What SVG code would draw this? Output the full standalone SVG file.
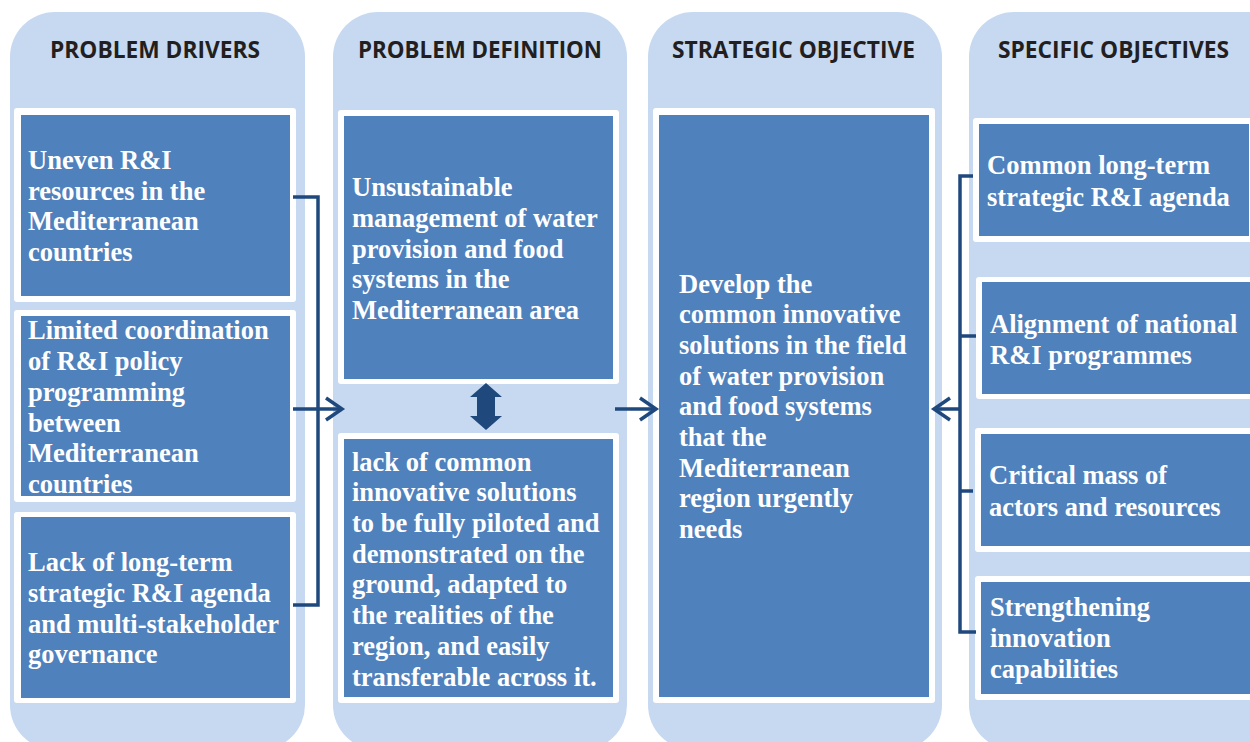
<svg xmlns="http://www.w3.org/2000/svg" width="1250" height="742" viewBox="0 0 1250 742">
<style>
.panel{fill:#C6D9F1}
.wb{fill:#FFFFFF}
.bb{fill:#4F81BD}
.hd{font-family:"Open Sans",Lato,sans-serif;font-weight:bold;font-size:22.5px;fill:#231F20}
.tx{font-family:"Liberation Serif","Times New Roman",serif;font-weight:bold;font-size:26.5px;fill:#FFFFFF}
.ln{fill:none;stroke:#1F497D;stroke-width:3.5}
.ar{fill:#1F497D}
</style>
<rect width="1250" height="742" fill="#FFFFFF"/>
<g id="panels">
<rect class="panel" x="10" y="12" width="295" height="738" rx="45"/>
<rect class="panel" x="333" y="12" width="294" height="738" rx="45"/>
<rect class="panel" x="648" y="12" width="294" height="738" rx="45"/>
<rect class="panel" x="969" y="12" width="330" height="738" rx="45"/>
</g>
<g id="headers">
<text class="hd" x="50" y="58" textLength="210" lengthAdjust="spacingAndGlyphs">PROBLEM DRIVERS</text>
<text class="hd" x="358" y="58" textLength="244" lengthAdjust="spacingAndGlyphs">PROBLEM DEFINITION</text>
<text class="hd" x="672" y="58" textLength="243" lengthAdjust="spacingAndGlyphs">STRATEGIC OBJECTIVE</text>
<text class="hd" x="998" y="58" textLength="231" lengthAdjust="spacingAndGlyphs">SPECIFIC OBJECTIVES</text>
</g>
<g id="driver1">
<rect class="wb" x="14" y="108" width="282" height="194" rx="3"/>
<rect class="bb" x="21" y="115" width="269" height="181"/>
<text class="tx" x="28" y="169">Uneven R&amp;I</text>
<text class="tx" x="28" y="200">resources in the</text>
<text class="tx" x="28" y="230">Mediterranean</text>
<text class="tx" x="28" y="261">countries</text>
</g>
<g id="driver2">
<rect class="wb" x="14" y="310" width="282" height="192" rx="3"/>
<rect class="bb" x="21" y="316" width="269" height="180"/>
<text class="tx" x="28" y="339">Limited coordination</text>
<text class="tx" x="28" y="370">of R&amp;I policy</text>
<text class="tx" x="28" y="401">programming</text>
<text class="tx" x="28" y="432">between</text>
<text class="tx" x="28" y="462">Mediterranean</text>
<text class="tx" x="28" y="493">countries</text>
</g>
<g id="driver3">
<rect class="wb" x="14" y="512" width="282" height="191" rx="3"/>
<rect class="bb" x="21" y="517" width="269" height="181"/>
<text class="tx" x="28" y="571">Lack of long-term</text>
<text class="tx" x="28" y="602">strategic R&amp;I agenda</text>
<text class="tx" x="28" y="633">and multi-stakeholder</text>
<text class="tx" x="28" y="663">governance</text>
</g>
<g id="definition1">
<rect class="wb" x="338" y="110" width="281" height="274" rx="3"/>
<rect class="bb" x="344" y="116" width="269" height="263"/>
<text class="tx" x="352" y="196">Unsustainable</text>
<text class="tx" x="352" y="227">management of water</text>
<text class="tx" x="352" y="258">provision and food</text>
<text class="tx" x="352" y="288">systems in the</text>
<text class="tx" x="352" y="319">Mediterranean area</text>
</g>
<g id="definition2">
<rect class="wb" x="338" y="433" width="281" height="270" rx="3"/>
<rect class="bb" x="344" y="439" width="269" height="258"/>
<text class="tx" x="352" y="471">lack of common</text>
<text class="tx" x="352" y="501">innovative solutions</text>
<text class="tx" x="352" y="532">to be fully piloted and</text>
<text class="tx" x="352" y="563">demonstrated on the</text>
<text class="tx" x="352" y="593">ground, adapted to</text>
<text class="tx" x="352" y="624">the realities of the</text>
<text class="tx" x="352" y="655">region, and easily</text>
<text class="tx" x="352" y="686">transferable across it.</text>
</g>
<g id="strategic">
<rect class="wb" x="653" y="108" width="282" height="595" rx="3"/>
<rect class="bb" x="659" y="115" width="270" height="582"/>
<text class="tx" x="679" y="293">Develop the</text>
<text class="tx" x="679" y="323">common innovative</text>
<text class="tx" x="679" y="354">solutions in the field</text>
<text class="tx" x="679" y="385">of water provision</text>
<text class="tx" x="679" y="415">and food systems</text>
<text class="tx" x="679" y="446">that the</text>
<text class="tx" x="679" y="477">Mediterranean</text>
<text class="tx" x="679" y="507">region urgently</text>
<text class="tx" x="679" y="538">needs</text>
</g>
<g id="specific1">
<rect class="wb" x="973" y="118" width="290" height="124" rx="3"/>
<rect class="bb" x="979" y="124" width="270" height="112"/>
<text class="tx" x="987" y="174">Common long-term</text>
<text class="tx" x="987" y="206">strategic R&amp;I agenda</text>
</g>
<g id="specific2">
<rect class="wb" x="976" y="277" width="290" height="122" rx="3"/>
<rect class="bb" x="982" y="282" width="270" height="112"/>
<text class="tx" x="990" y="333">Alignment of national</text>
<text class="tx" x="990" y="364">R&amp;I programmes</text>
</g>
<g id="specific3">
<rect class="wb" x="975" y="428" width="290" height="124" rx="3"/>
<rect class="bb" x="981" y="434" width="270" height="112"/>
<text class="tx" x="989" y="484">Critical mass of</text>
<text class="tx" x="989" y="516">actors and resources</text>
</g>
<g id="specific4">
<rect class="wb" x="975" y="576" width="290" height="124" rx="3"/>
<rect class="bb" x="981" y="582" width="270" height="112"/>
<text class="tx" x="990" y="616">Strengthening</text>
<text class="tx" x="990" y="647">innovation</text>
<text class="tx" x="990" y="678">capabilities</text>
</g>
<g id="connectors">
<path class="ln" d="M293,197 H318 V605 H293"/>
<path class="ln" d="M293,409 H341"/>
<path class="ln" d="M326,398 L342,409 L326,420"/>
<path class="ln" d="M615,409 H655"/>
<path class="ln" d="M640,398 L656,409 L640,420"/>
<path class="ln" d="M973,176 H960 V632 H976"/>
<path class="ln" d="M960,336 H976"/>
<path class="ln" d="M960,491 H973"/>
<path class="ln" d="M960,409 H936"/>
<path class="ln" d="M950,398 L934,409 L950,420"/>
<path class="ar" d="M486,383 L502,397 L495,397 L495,416 L502,416 L486,430 L470,416 L477,416 L477,397 L470,397 Z"/>
</g>
</svg>
